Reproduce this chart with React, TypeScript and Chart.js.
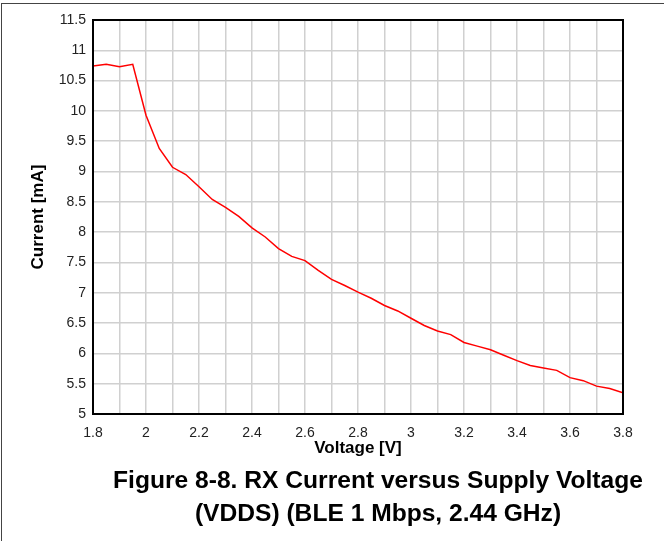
import React, { useEffect, useRef } from "react";
import { Chart, registerables } from "chart.js";

Chart.register(...registerables);

const voltages = [
  1.8, 1.85, 1.9, 1.95, 2.0, 2.05, 2.1, 2.15, 2.2, 2.25, 2.3, 2.35, 2.4, 2.45,
  2.5, 2.55, 2.6, 2.65, 2.7, 2.75, 2.8, 2.85, 2.9, 2.95, 3.0, 3.05, 3.1, 3.15,
  3.2, 3.25, 3.3, 3.35, 3.4, 3.45, 3.5, 3.55, 3.6, 3.65, 3.7, 3.75, 3.8,
];
const currents = [
  10.74, 10.77, 10.73, 10.77, 9.93, 9.38, 9.07, 8.95, 8.75, 8.54, 8.41, 8.26,
  8.07, 7.92, 7.73, 7.6, 7.53, 7.37, 7.22, 7.12, 7.01, 6.91, 6.79, 6.7, 6.58,
  6.46, 6.37, 6.31, 6.18, 6.12, 6.06, 5.97, 5.88, 5.8, 5.76, 5.72, 5.6, 5.55,
  5.46, 5.42, 5.35,
];
const xTickLabels = ["1.8", "2", "2.2", "2.4", "2.6", "2.8", "3", "3.2", "3.4", "3.6", "3.8"];
const yTickLabels = ["5", "5.5", "6", "6.5", "7", "7.5", "8", "8.5", "9", "9.5", "10", "10.5", "11", "11.5"];
const xTitle = "Voltage [V]";
const yTitle = "Current [mA]";
const captionLines = [
  "Figure 8-8. RX Current versus Supply Voltage",
  "(VDDS) (BLE 1 Mbps, 2.44 GHz)",
];

const FONT = "'Liberation Sans', Arial, sans-serif";

const plotBorder = {
  id: "plotBorder",
  afterDraw(chart: any) {
    const { ctx, chartArea } = chart;
    ctx.save();
    ctx.strokeStyle = "#000";
    ctx.lineWidth = 2;
    ctx.strokeRect(
      chartArea.left,
      chartArea.top,
      chartArea.right - chartArea.left,
      chartArea.bottom - chartArea.top
    );
    ctx.restore();
  },
};

export default function App() {
  const ref = useRef<HTMLCanvasElement | null>(null);

  useEffect(() => {
    if (!ref.current) return;
    const chart = new Chart(ref.current, {
      type: "line",
      data: {
        datasets: [
          {
            data: voltages.map((v, i) => ({ x: v, y: currents[i] })),
            borderColor: "#ff0000",
            borderWidth: 1.5,
            pointRadius: 0,
            tension: 0,
            fill: false,
          },
        ],
      },
      plugins: [plotBorder],
      options: {
        animation: false,
        responsive: true,
        maintainAspectRatio: false,
        layout: { padding: { top: 20, right: 41, left: 0, bottom: 0 } },
        plugins: {
          legend: { display: false },
          tooltip: { enabled: false },
        },
        scales: {
          x: {
            type: "linear",
            min: 1.8,
            max: 3.8,
            afterFit: (s: any) => {
              s.height = 56;
            },
            ticks: {
              stepSize: 0.1,
              autoSkip: false,
              maxRotation: 0,
              padding: 11,
              color: "#222",
              font: { family: FONT, size: 14 },
              callback: (value: any) => {
                const k = Math.round((Number(value) - 1.8) * 10);
                return k % 2 === 0 ? xTickLabels[k / 2] ?? "" : "";
              },
            },
            grid: { color: "#d0d0d0", lineWidth: 1.5, drawTicks: false },
            border: { display: false },
            title: {
              display: true,
              text: xTitle,
              color: "#000",
              font: { family: FONT, size: 17, weight: "bold" },
              padding: { top: 0, bottom: 11 },
            },
          },
          y: {
            type: "linear",
            min: 5,
            max: 11.5,
            afterFit: (s: any) => {
              s.width = 93;
            },
            ticks: {
              stepSize: 0.5,
              padding: 7,
              color: "#222",
              font: { family: FONT, size: 14 },
              callback: (value: any) => {
                const k = Math.round((Number(value) - 5) * 2);
                return yTickLabels[k] ?? "";
              },
            },
            grid: { color: "#d0d0d0", lineWidth: 1.5, drawTicks: false },
            border: { display: false },
            title: {
              display: true,
              text: yTitle,
              color: "#000",
              font: { family: FONT, size: 17, weight: "bold" },
              padding: { top: 28, bottom: 0 },
            },
          },
        },
      },
    });
    return () => chart.destroy();
  }, []);

  return (
    <div
      style={{
        position: "fixed",
        left: 0,
        top: 0,
        width: 664,
        height: 541,
        background: "#fff",
        overflow: "hidden",
      }}
    >
      <div
        style={{
          position: "absolute",
          left: 1,
          top: 3,
          width: 670,
          height: 545,
          borderTop: "1px solid #444",
          borderLeft: "1px solid #444",
        }}
      />
      <div style={{ position: "absolute", left: 0, top: 0, width: 664, height: 470 }}>
        <canvas ref={ref} />
      </div>
      <div
        style={{
          position: "absolute",
          left: 92,
          top: 463,
          width: 572,
          textAlign: "center",
          fontFamily: FONT,
          fontWeight: "bold",
          fontSize: 24.6,
          lineHeight: "33px",
          color: "#000",
        }}
      >
        {captionLines.map((l, i) => (
          <div key={i}>{l}</div>
        ))}
      </div>
    </div>
  );
}
